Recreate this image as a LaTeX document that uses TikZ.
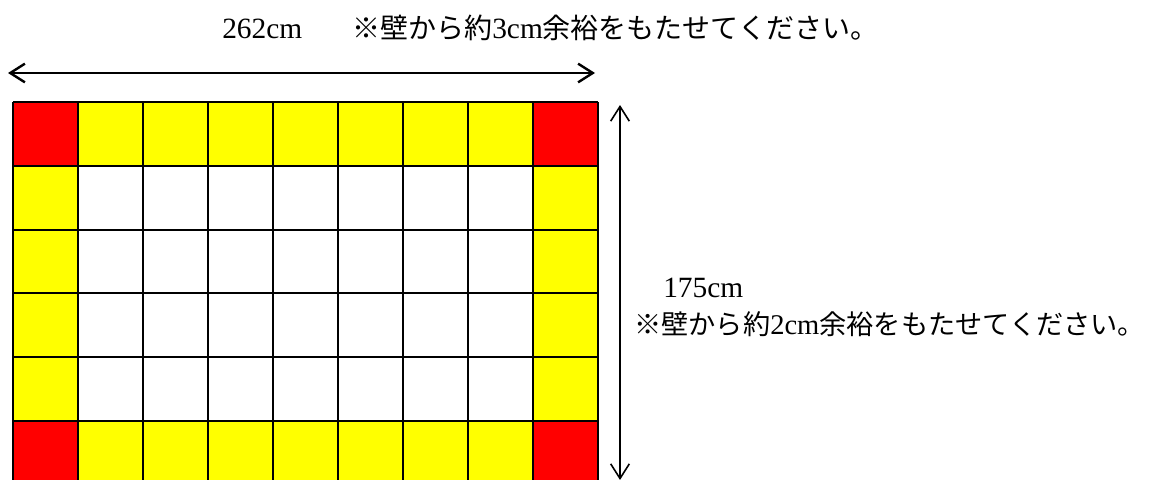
\documentclass[tikz,border=0pt]{standalone}
\usepackage{fontspec}
\setmainfont[Scale=1.05]{Liberation Serif}
\newfontfamily\cjk{Noto Sans CJK JP}
\usetikzlibrary{arrows.meta}
\definecolor{tileyellow}{RGB}{255,255,0}
\definecolor{tilered}{RGB}{255,0,0}

\begin{document}
\begin{tikzpicture}[x=0.75pt,y=-0.75pt,
    gridline/.style={line width=1.6pt},
    dimarrow/.style={{Straight Barb[length=11pt,width=14pt]}-{Straight Barb[length=11pt,width=14pt]}},
    dimtext/.style={anchor=base west,inner sep=0pt,font=\fontsize{21}{25}\selectfont}]
    \useasboundingbox (0,0) rectangle (1149,479);

    % carpet tiles
    \begin{scope}
        \clip (0,0) rectangle (1149,479);
        \fill[tileyellow] (13,102) rectangle (598,484.8);
        \fill[white] (78,165.8) rectangle (533,421);
        \fill[tilered] (13,102) rectangle (78,165.8);
        \fill[tilered] (533,102) rectangle (598,165.8);
        \fill[tilered] (13,421) rectangle (78,484.8);
        \fill[tilered] (533,421) rectangle (598,484.8);

        \draw[gridline] (13,102) -- (13,484.8);
        \draw[gridline] (78,102) -- (78,484.8);
        \draw[gridline] (143,102) -- (143,484.8);
        \draw[gridline] (208,102) -- (208,484.8);
        \draw[gridline] (273,102) -- (273,484.8);
        \draw[gridline] (338,102) -- (338,484.8);
        \draw[gridline] (403,102) -- (403,484.8);
        \draw[gridline] (468,102) -- (468,484.8);
        \draw[gridline] (533,102) -- (533,484.8);
        \draw[gridline] (598,102) -- (598,484.8);

        \draw[gridline] (13,102) -- (598,102);
        \draw[gridline] (13,165.8) -- (598,165.8);
        \draw[gridline] (13,229.6) -- (598,229.6);
        \draw[gridline] (13,293.4) -- (598,293.4);
        \draw[gridline] (13,357.2) -- (598,357.2);
        \draw[gridline] (13,421) -- (598,421);
    \end{scope}

    % dimensions
    \coordinate (wleft) at (8,73);
    \coordinate (wright) at (595,73);
    \coordinate (htop) at (620,105);
    \coordinate (hbottom) at (620,480);
    \draw[dimarrow,line width=1.8pt] (wleft) -- (wright);
    \draw[dimarrow,line width=1.2pt] (htop) -- (hbottom);

    \node[dimtext] (wlength) at (222,38) {262cm};
    \node[dimtext] (wnote) at (352,38) {{\cjk ※壁から約}3cm{\cjk 余裕をもたせてください。}};
    \node[dimtext] (hlength) at (663,297) {175cm};
    \node[dimtext,font=\fontsize{20.4}{25}\selectfont] (hnote) at (634,334) {{\cjk ※壁から約}2cm{\cjk 余裕をもたせてください。}};
\end{tikzpicture}
\end{document}
